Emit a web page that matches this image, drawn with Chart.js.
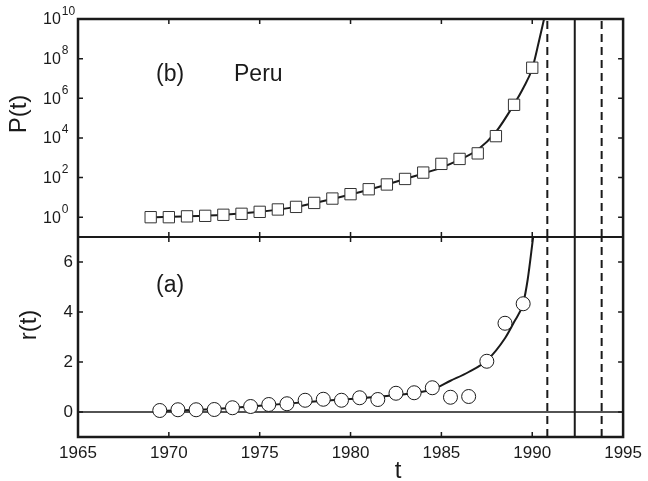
<!DOCTYPE html>
<html lang="en">
<head>
    <meta charset="UTF-8">
    <title>Peru: P(t) and r(t)</title>
    <script src="https://cdn.jsdelivr.net/npm/chart.js"></script>
    <style>
        body {
            margin: 0;
            padding: 0;
            background: #fff;
        }
    </style>
</head>
<body>
    <canvas id="chart" width="648" height="481"></canvas>

    <script>
        // x axis
        const xTicks = [1965, 1970, 1975, 1980, 1985, 1990, 1995];

        // panel (b): P(t), yearly, log scale
        const pYears = [1969, 1970, 1971, 1972, 1973, 1974, 1975, 1976, 1977, 1978, 1979,
                        1980, 1981, 1982, 1983, 1984, 1985, 1986, 1987, 1988, 1989, 1990];
        const pValues = [1.0, 1.0, 1.1, 1.17, 1.32, 1.48, 1.86, 2.45, 3.31, 5.25, 8.7,
                         14.5, 25.7, 44.7, 85, 178, 490, 870, 1660, 12300, 468000, 3.47e7];
        const pFitYears = [1969, 1971, 1973, 1975, 1977, 1979, 1981, 1983, 1985, 1986,
                           1987, 1988, 1989, 1989.5, 1990, 1990.35, 1990.65];
        const pFitValues = [1.0, 1.1, 1.32, 1.86, 3.31, 8.3, 24, 85, 316, 794,
                            2510, 20000, 500000, 3.2e6, 3.2e7, 6.3e8, 1e10];
        const pTickExps = [0, 2, 4, 6, 8, 10];

        // panel (a): r(t), mid-year points
        const rYears = [1969.5, 1970.5, 1971.5, 1972.5, 1973.5, 1974.5, 1975.5, 1976.5, 1977.5, 1978.5, 1979.5,
                        1980.5, 1981.5, 1982.5, 1983.5, 1984.5, 1985.5, 1986.5, 1987.5, 1988.5, 1989.5];
        const rValues = [0.06, 0.09, 0.09, 0.10, 0.17, 0.22, 0.30, 0.33, 0.47, 0.51, 0.47,
                         0.57, 0.50, 0.75, 0.77, 0.97, 0.59, 0.62, 2.03, 3.55, 4.33];
        const rFitYears = [1969.5, 1972, 1975, 1978, 1980, 1982, 1983.5, 1984.5, 1985.5,
                           1986.5, 1987.5, 1988.5, 1989, 1989.5, 1989.75, 1990.05];
        const rFitValues = [0.05, 0.1, 0.25, 0.42, 0.52, 0.64, 0.76, 0.9, 1.25,
                            1.6, 2.06, 2.95, 3.6, 4.35, 5.3, 7.0];
        const rTicks = [0, 2, 4, 6];

        // critical times
        const dashedYears = [1990.83, 1993.82];
        const solidYears = [1992.34];

        const family = "'Liberation Sans', Arial, Helvetica, sans-serif";
        const ink = '#1a1a1a';

        const pts = (xs, ys) => xs.map((x, i) => ({ x: x, y: ys[i] }));

        function vline(year, axis, dashed) {
            const lo = axis === 'yP' ? 0.1 : -1;
            const hi = axis === 'yP' ? 1e10 : 7;
            return {
                data: [{ x: year, y: lo }, { x: year, y: hi }],
                yAxisID: axis,
                showLine: true,
                borderColor: ink,
                borderWidth: 2,
                borderDash: dashed ? [8, 5] : [],
                pointRadius: 0,
                order: 3
            };
        }

        const datasets = [
            {
                data: pts(pYears, pValues),
                yAxisID: 'yP',
                pointStyle: 'rect',
                pointRadius: 8,
                pointBackgroundColor: '#fff',
                pointBorderColor: '#333',
                pointBorderWidth: 1,
                order: 0
            },
            {
                data: pts(pFitYears, pFitValues),
                yAxisID: 'yP',
                showLine: true,
                borderColor: ink,
                borderWidth: 2,
                pointRadius: 0,
                cubicInterpolationMode: 'monotone',
                order: 1
            },
            {
                data: pts(rYears, rValues),
                yAxisID: 'yR',
                pointStyle: 'circle',
                pointRadius: 7,
                pointBackgroundColor: '#fff',
                pointBorderColor: ink,
                pointBorderWidth: 1,
                order: 0
            },
            {
                data: pts(rFitYears, rFitValues),
                yAxisID: 'yR',
                showLine: true,
                borderColor: ink,
                borderWidth: 2,
                pointRadius: 0,
                cubicInterpolationMode: 'monotone',
                order: 1
            },
            {
                data: [{ x: 1965, y: 0 }, { x: 1995, y: 0 }],
                yAxisID: 'yR',
                showLine: true,
                borderColor: ink,
                borderWidth: 1.3,
                pointRadius: 0,
                order: 2
            }
        ];
        dashedYears.forEach(y => { datasets.push(vline(y, 'yP', true), vline(y, 'yR', true)); });
        solidYears.forEach(y => { datasets.push(vline(y, 'yP', false), vline(y, 'yR', false)); });

        // frame, inward ticks, superscript labels and panel texts
        const framePlugin = {
            id: 'frame',
            afterDraw(chart) {
                const { ctx, chartArea: a, scales } = chart;
                const x = scales.x, yP = scales.yP, yR = scales.yR;
                const mid = yR.top;
                const tl = 5;
                ctx.save();
                ctx.strokeStyle = ink;
                ctx.lineWidth = 1.5;
                ctx.beginPath();
                xTicks.slice(1, -1).forEach(t => {
                    const px = x.getPixelForValue(t);
                    ctx.moveTo(px, a.top); ctx.lineTo(px, a.top + tl);
                    ctx.moveTo(px, mid - tl); ctx.lineTo(px, mid + tl);
                    ctx.moveTo(px, a.bottom); ctx.lineTo(px, a.bottom - tl);
                });
                pTickExps.slice(0, -1).forEach(e => {
                    const py = yP.getPixelForValue(Math.pow(10, e));
                    ctx.moveTo(a.left, py); ctx.lineTo(a.left + tl, py);
                    ctx.moveTo(a.right, py); ctx.lineTo(a.right - tl, py);
                });
                rTicks.forEach(v => {
                    const py = yR.getPixelForValue(v);
                    ctx.moveTo(a.left, py); ctx.lineTo(a.left + tl, py);
                    ctx.moveTo(a.right, py); ctx.lineTo(a.right - tl, py);
                });
                ctx.stroke();

                ctx.lineWidth = 2.5;
                ctx.strokeRect(a.left, a.top, a.right - a.left, a.bottom - a.top);
                ctx.lineWidth = 2;
                ctx.beginPath();
                ctx.moveTo(a.left, mid); ctx.lineTo(a.right, mid);
                ctx.stroke();

                // 10^n labels
                ctx.fillStyle = ink;
                ctx.textAlign = 'left';
                pTickExps.forEach(e => {
                    const py = yP.getPixelForValue(Math.pow(10, e));
                    ctx.font = '16px ' + family;
                    ctx.textBaseline = 'middle';
                    ctx.fillText('10', 43, py + 1);
                    const w = ctx.measureText('10').width;
                    ctx.font = '12px ' + family;
                    ctx.textBaseline = 'alphabetic';
                    ctx.fillText(String(e), 43 + w + 1, py - 4.5);
                });

                // panel texts
                ctx.font = '23px ' + family;
                ctx.textBaseline = 'middle';
                ctx.fillText('(b)', 156, 75);
                ctx.fillText('Peru', 234, 75);
                ctx.fillText('(a)', 156, 286);
                ctx.font = '24px ' + family;
                ctx.textAlign = 'center';
                ctx.textBaseline = 'alphabetic';
                ctx.fillText('t', 398, 478);

                ctx.textBaseline = 'middle';
                ctx.translate(19, 114);
                ctx.rotate(-Math.PI / 2);
                ctx.fillText('P(t)', 0, 0);
                ctx.rotate(Math.PI / 2);
                ctx.translate(29 - 19, 325 - 114);
                ctx.rotate(-Math.PI / 2);
                ctx.fillText('r(t)', 0, 0);
                ctx.restore();
            }
        };

        new Chart(document.getElementById('chart'), {
            type: 'scatter',
            data: { datasets: datasets },
            options: {
                responsive: false,
                animation: false,
                layout: { padding: { top: 19, right: 19, left: 0, bottom: 0 } },
                plugins: { legend: { display: false }, tooltip: { enabled: false } },
                scales: {
                    x: {
                        type: 'linear',
                        min: 1965,
                        max: 1995,
                        afterBuildTicks: s => { s.ticks = xTicks.map(v => ({ value: v })); },
                        afterFit: s => { s.height = 44; },
                        grid: { display: false, drawTicks: false },
                        border: { display: false },
                        ticks: {
                            color: ink,
                            font: { family: family, size: 17 },
                            padding: 6,
                            maxRotation: 0,
                            callback: v => String(v)
                        }
                    },
                    yR: {
                        type: 'linear',
                        position: 'left',
                        stack: 'panels',
                        stackWeight: 200,
                        min: -1,
                        max: 7,
                        afterBuildTicks: s => { s.ticks = rTicks.map(v => ({ value: v })); },
                        afterFit: s => { s.width = 78; },
                        grid: { display: false, drawTicks: false },
                        border: { display: false },
                        ticks: {
                            color: ink,
                            font: { family: family, size: 17 },
                            padding: 5
                        }
                    },
                    yP: {
                        type: 'logarithmic',
                        position: 'left',
                        stack: 'panels',
                        stackWeight: 218,
                        min: 0.1,
                        max: 1e10,
                        afterBuildTicks: s => { s.ticks = pTickExps.map(e => ({ value: Math.pow(10, e) })); },
                        afterFit: s => { s.width = 78; },
                        grid: { display: false, drawTicks: false },
                        border: { display: false },
                        ticks: { display: false }
                    }
                }
            },
            plugins: [framePlugin]
        });
    </script>
</body>
</html>
